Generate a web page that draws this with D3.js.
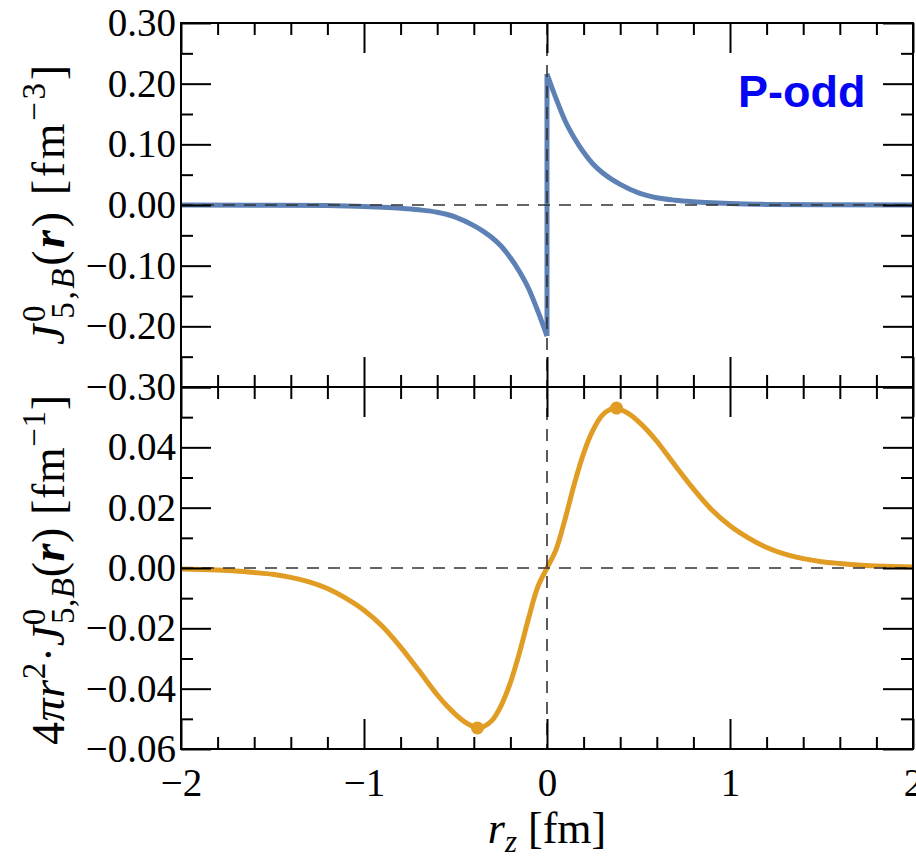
<!DOCTYPE html>
<html>
<head>
<meta charset="utf-8">
<script src="https://cdn.jsdelivr.net/npm/d3@7"></script>
<style>
  body { margin: 0; background: #fff; }
  text { font-family: "Liberation Serif", "Times New Roman", serif; }
</style>
</head>
<body>
<svg id="chart" width="916" height="858"></svg>
<script>
// --- data ---
// top panel: J^0_{5,B}(r) along r_z, jump at 0
const jRzNeg  = [-2, -1.5, -1.2, -1.0, -0.9, -0.8, -0.7, -0.6, -0.5, -0.4, -0.35, -0.3, -0.25, -0.2, -0.15, -0.1, -0.05, 0];
const jValNeg = [0, -0.0003, -0.001, -0.0025, -0.0038, -0.0055, -0.008, -0.012, -0.020, -0.034, -0.043, -0.054, -0.068, -0.087, -0.110, -0.138, -0.175, -0.216];
const jRzPos  = [0, 0.05, 0.1, 0.15, 0.2, 0.25, 0.3, 0.35, 0.4, 0.5, 0.6, 0.7, 0.8, 0.9, 1.0, 1.2, 1.5, 2];
const jValPos = [0.216, 0.175, 0.138, 0.110, 0.087, 0.068, 0.054, 0.043, 0.034, 0.020, 0.012, 0.008, 0.0055, 0.0038, 0.0025, 0.001, 0.0003, 0];

// bottom panel: 4 pi r^2 J
const wRz  = [-2, -1.8, -1.7, -1.6, -1.5, -1.4, -1.3, -1.2, -1.1, -1.0, -0.9, -0.8, -0.7, -0.6, -0.55, -0.5, -0.45, -0.38, -0.35, -0.3, -0.25, -0.2, -0.15, -0.1, -0.05,
              0, 0.05, 0.1, 0.15, 0.2, 0.25, 0.3, 0.35, 0.38, 0.45, 0.5, 0.55, 0.6, 0.7, 0.8, 0.9, 1.0, 1.1, 1.2, 1.3, 1.4, 1.5, 1.6, 1.7, 1.8, 2];
const wVal = [-0.0003, -0.0007, -0.0010, -0.0015, -0.0021, -0.0031, -0.0046, -0.0068, -0.0100, -0.0140, -0.0193, -0.0262, -0.0340, -0.0420, -0.0455, -0.0485, -0.0510, -0.0530, -0.0527, -0.0505, -0.0455, -0.0380, -0.0280, -0.0165, -0.0062,
              0, 0.0062, 0.0165, 0.0280, 0.0380, 0.0455, 0.0505, 0.0527, 0.0530, 0.0510, 0.0485, 0.0455, 0.0420, 0.0340, 0.0262, 0.0193, 0.0140, 0.0100, 0.0068, 0.0046, 0.0031, 0.0021, 0.0015, 0.0010, 0.0007, 0.0003];
const markRz  = [-0.38, 0.38];
const markVal = [-0.053, 0.053];

// ticks
const xMajor = [-2, -1, 0, 1, 2];
const xMinor = [-1.8, -1.6, -1.4, -1.2, -0.8, -0.6, -0.4, -0.2, 0.2, 0.4, 0.6, 0.8, 1.2, 1.4, 1.6, 1.8];
const yTopMajor = [-0.3, -0.2, -0.1, 0, 0.1, 0.2, 0.3];
const yTopMinor = [-0.25, -0.15, -0.05, 0.05, 0.15, 0.25];
const yBotMajor = [-0.06, -0.04, -0.02, 0, 0.02, 0.04, 0.06];
const yBotLabeled = [-0.06, -0.04, -0.02, 0, 0.02, 0.04];
const yBotMinor = [-0.05, -0.03, -0.01, 0.01, 0.03, 0.05];

const svg = d3.select("#chart");
const L = 181, R = 913, T = 23, M = 387, B = 749;
const majorLen = 30, minorLen = 12;
const fontSize = 39;

const x = d3.scaleLinear().domain([-2, 2]).range([L, R]);
const yTop = d3.scaleLinear().domain([-0.3, 0.3]).range([M, T]);
const yBot = d3.scaleLinear().domain([-0.06, 0.06]).range([B, M]);
const fmtY = d3.format(".2f");

function styleAxis(g) {
  g.select(".domain").remove();
  g.selectAll(".tick line").attr("stroke", "#000").attr("stroke-width", 2);
  g.selectAll(".tick text").attr("fill", "#000")
    .style("font-family", '"Liberation Serif","Times New Roman",serif')
    .style("font-size", fontSize + "px");
}

function addAxis(axisFn, scale, vals, len, pos) {
  const a = axisFn(scale).tickValues(vals).tickSizeOuter(0).tickSize(-len).tickFormat("");
  const g = svg.append("g").attr("transform", pos).call(a);
  styleAxis(g);
  return g;
}

function panelAxes(y, top, bottom, major, minor, labeled, xLabels) {
  // left
  addAxis(d3.axisLeft, y, major, majorLen, `translate(${L},0)`);
  addAxis(d3.axisLeft, y, minor, minorLen, `translate(${L},0)`);
  svg.append("g").attr("transform", `translate(${L},0)`)
    .call(d3.axisLeft(y).tickValues(labeled).tickSize(0).tickPadding(5).tickFormat(fmtY))
    .call(styleAxis);
  // right
  addAxis(d3.axisRight, y, major, majorLen, `translate(${R},0)`);
  addAxis(d3.axisRight, y, minor, minorLen, `translate(${R},0)`);
  // top
  addAxis(d3.axisTop, x, xMajor, majorLen, `translate(0,${top})`);
  addAxis(d3.axisTop, x, xMinor, minorLen, `translate(0,${top})`);
  // bottom
  addAxis(d3.axisBottom, x, xMajor, majorLen, `translate(0,${bottom})`);
  addAxis(d3.axisBottom, x, xMinor, minorLen, `translate(0,${bottom})`);
  if (xLabels) {
    const g = svg.append("g").attr("transform", `translate(0,${bottom})`)
      .call(d3.axisBottom(x).tickValues(xMajor).tickSize(0).tickPadding(19).tickFormat(d3.format("d")));
    styleAxis(g);
  }
  // frame
  svg.append("rect").attr("x", L).attr("y", top).attr("width", R - L).attr("height", bottom - top)
    .attr("fill", "none").attr("stroke", "#000").attr("stroke-width", 2);
}

function zeroLines(y, top, bottom) {
  svg.append("line").attr("x1", L).attr("x2", R).attr("y1", y(0)).attr("y2", y(0))
    .attr("stroke", "#333").attr("stroke-width", 1.6).attr("stroke-dasharray", "12,9");
  svg.append("line").attr("x1", x(0)).attr("x2", x(0)).attr("y1", top).attr("y2", bottom)
    .attr("stroke", "#333").attr("stroke-width", 1.6).attr("stroke-dasharray", "12,9");
}

// --- top panel curve ---
const blue = "#5e81b5", orange = "#e19c24";
const lineTop = d3.line().x(d => x(d[0])).y(d => yTop(d[1])).curve(d3.curveMonotoneX);
svg.append("path").datum(jRzNeg.map((r, i) => [r, jValNeg[i]]))
  .attr("d", lineTop).attr("fill", "none").attr("stroke", blue).attr("stroke-width", 5);
svg.append("path").datum(jRzPos.map((r, i) => [r, jValPos[i]]))
  .attr("d", lineTop).attr("fill", "none").attr("stroke", blue).attr("stroke-width", 5);
svg.append("line")
  .attr("x1", x(0)).attr("x2", x(0))
  .attr("y1", yTop(jValNeg[jValNeg.length - 1])).attr("y2", yTop(jValPos[0]))
  .attr("stroke", blue).attr("stroke-width", 5);

// --- bottom panel curve ---
const lineBot = d3.line().x(d => x(d[0])).y(d => yBot(d[1])).curve(d3.curveCatmullRom.alpha(0.5));
svg.append("path").datum(wRz.map((r, i) => [r, wVal[i]]))
  .attr("d", lineBot).attr("fill", "none").attr("stroke", orange).attr("stroke-width", 5);
svg.selectAll("circle.mark").data(markRz).enter().append("circle")
  .attr("cx", d => x(d)).attr("cy", (d, i) => yBot(markVal[i])).attr("r", 6.5).attr("fill", orange);

zeroLines(yTop, T, M);
zeroLines(yBot, M, B);
panelAxes(yTop, T, M, yTopMajor, yTopMinor, yTopMajor, false);
panelAxes(yBot, M, B, yBotMajor, yBotMinor, yBotLabeled, true);

// --- labels ---
const labSize = 46, scrSize = 33;
const yl1 = svg.append("text").attr("transform", "translate(64,205) rotate(-90)")
  .attr("text-anchor", "middle").attr("textLength", 280).attr("lengthAdjust", "spacing")
  .style("font-size", labSize + "px");
yl1.append("tspan").style("font-style", "italic").text("J");
yl1.append("tspan").attr("dy", -19).style("font-size", scrSize + "px").text("0");
yl1.append("tspan").attr("dx", -16).attr("dy", 29).style("font-size", scrSize + "px").text("5,");
yl1.append("tspan").style("font-size", scrSize + "px").style("font-style", "italic").text("B");
yl1.append("tspan").attr("dy", -10).text("(");
yl1.append("tspan").style("font-style", "italic").style("font-weight", "bold").text("r");
yl1.append("tspan").text(") [fm");
yl1.append("tspan").attr("dy", -19).style("font-size", scrSize + "px").text("\u22123");
yl1.append("tspan").attr("dy", 19).text("]");

const yl2 = svg.append("text").attr("transform", "translate(64,570) rotate(-90)")
  .attr("text-anchor", "middle").attr("textLength", 350).attr("lengthAdjust", "spacing")
  .style("font-size", labSize + "px");
yl2.append("tspan").text("4");
yl2.append("tspan").style("font-style", "italic").text("\u03c0r");
yl2.append("tspan").attr("dy", -19).style("font-size", scrSize + "px").text("2");
yl2.append("tspan").attr("dy", 19).text("\u00b7");
yl2.append("tspan").style("font-style", "italic").text("J");
yl2.append("tspan").attr("dy", -19).style("font-size", scrSize + "px").text("0");
yl2.append("tspan").attr("dx", -16).attr("dy", 29).style("font-size", scrSize + "px").text("5,");
yl2.append("tspan").style("font-size", scrSize + "px").style("font-style", "italic").text("B");
yl2.append("tspan").attr("dy", -10).text("(");
yl2.append("tspan").style("font-style", "italic").style("font-weight", "bold").text("r");
yl2.append("tspan").text(") [fm");
yl2.append("tspan").attr("dy", -19).style("font-size", scrSize + "px").text("\u22121");
yl2.append("tspan").attr("dy", 19).text("]");

const xl = svg.append("text").attr("x", x(0)).attr("y", 843)
  .attr("text-anchor", "middle")
  .style("font-size", "44px");
xl.append("tspan").style("font-style", "italic").text("r");
xl.append("tspan").attr("dy", 9).style("font-size", "31px").style("font-style", "italic").text("z");
xl.append("tspan").attr("dy", -9).text(" [fm]");

svg.append("text").attr("x", 738).attr("y", 107)
  .style("font-family", '"Liberation Sans", Arial, sans-serif')
  .style("font-weight", "bold").style("font-size", "45px")
  .attr("fill", "#0505f5").text("P-odd");
</script>
</body>
</html>
